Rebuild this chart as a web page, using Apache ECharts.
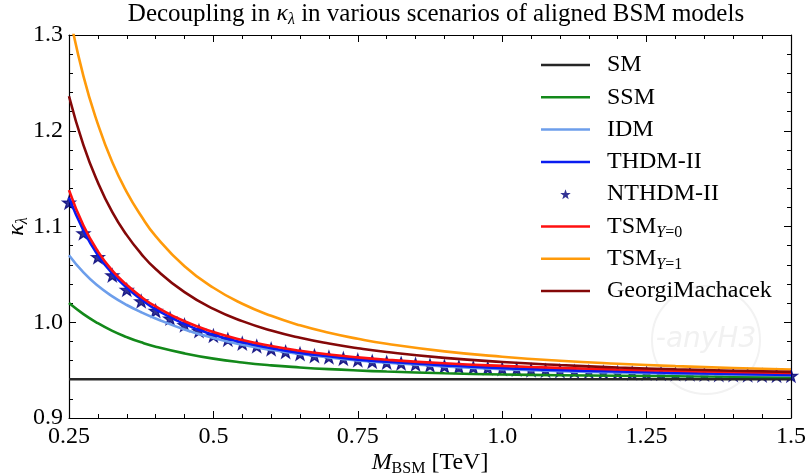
<!DOCTYPE html>
<html>
<head>
<meta charset="utf-8">
<script src="https://cdn.jsdelivr.net/npm/echarts@6/dist/echarts.min.js"></script>
<style>html,body{margin:0;padding:0;background:#fff}#c{width:806px;height:475px}</style>
</head>
<body>
<div id="c"></div>
<script>
// ---- data ----
const xLine = [0.25, 0.275, 0.3, 0.325, 0.35, 0.375, 0.4, 0.45, 0.5, 0.55, 0.6, 0.65, 0.7, 0.75, 0.8, 0.9, 1.0, 1.1, 1.2, 1.3, 1.4, 1.5];
const xSM = [0.25, 1.5];
const smVals = [0.9405, 0.9405];
const ssmVals = [1.020, 1.0085, 0.999, 0.991, 0.9845, 0.979, 0.9745, 0.9675, 0.962, 0.958, 0.955, 0.9528, 0.951, 0.9496, 0.9485, 0.9467, 0.9455, 0.9447, 0.9441, 0.9436, 0.9432, 0.9429];
const idmVals = [1.070, 1.052, 1.038, 1.027, 1.018, 1.0105, 1.004, 0.9925, 0.9835, 0.9765, 0.9712, 0.9668, 0.9631, 0.9601, 0.9577, 0.9538, 0.951, 0.949, 0.9475, 0.9463, 0.9453, 0.9445];
const thdmVals = [1.130, 1.096, 1.070, 1.051, 1.036, 1.024, 1.0135, 0.998, 0.987, 0.979, 0.973, 0.968, 0.9645, 0.961, 0.9588, 0.955, 0.952, 0.950, 0.9485, 0.947, 0.946, 0.945];
const tsm0Vals = [1.138, 1.101, 1.074, 1.054, 1.039, 1.0265, 1.0165, 1.001, 0.9898, 0.9815, 0.9752, 0.9703, 0.9664, 0.9633, 0.9608, 0.9571, 0.9544, 0.9523, 0.9507, 0.9494, 0.948, 0.947];
const tsm1Vals = [1.324, 1.257, 1.207, 1.167, 1.136, 1.111, 1.090, 1.0585, 1.036, 1.0193, 1.0067, 0.9968, 0.989, 0.9827, 0.9775, 0.9696, 0.964, 0.9598, 0.9567, 0.9542, 0.9522, 0.9507];
const gmVals = [1.236, 1.185, 1.146, 1.115, 1.091, 1.0715, 1.0556, 1.0314, 1.014, 1.0012, 0.9914, 0.9838, 0.9778, 0.9729, 0.9689, 0.9628, 0.9585, 0.9553, 0.9528, 0.9509, 0.9494, 0.9482];
const xStar = [0.25, 0.275, 0.3, 0.325, 0.35, 0.375, 0.4, 0.425, 0.45, 0.475, 0.5, 0.525, 0.55, 0.575, 0.6, 0.625, 0.65, 0.675, 0.7, 0.725, 0.75, 0.775, 0.8, 0.825, 0.85, 0.875, 0.9, 0.925, 0.95, 0.975, 1.0, 1.025, 1.05, 1.075, 1.1, 1.125, 1.15, 1.175, 1.2, 1.225, 1.25, 1.275, 1.3, 1.325, 1.35, 1.375, 1.4, 1.425, 1.45, 1.475, 1.5];
const nthdmVals = [1.125, 1.093, 1.068, 1.049, 1.034, 1.022, 1.012, 1.004, 0.997, 0.991, 0.986, 0.982, 0.978, 0.975, 0.972, 0.969, 0.967, 0.965, 0.9635, 0.962, 0.9605, 0.959, 0.958, 0.957, 0.956, 0.955, 0.954, 0.9533, 0.9526, 0.952, 0.9513, 0.9507, 0.9501, 0.9496, 0.9491, 0.9486, 0.9482, 0.9478, 0.9474, 0.947, 0.9467, 0.9464, 0.9461, 0.9458, 0.9455, 0.9452, 0.945, 0.9448, 0.9446, 0.9444, 0.9442];
const xTickVals = [0.25, 0.5, 0.75, 1.0, 1.25, 1.5];
const xTickLabels = ['0.25', '0.5', '0.75', '1.0', '1.25', '1.5'];
const yTickVals = [0.9, 1.0, 1.1, 1.2, 1.3];
const yTickLabels = ['0.9', '1.0', '1.1', '1.2', '1.3'];
const seriesNames = ['SM', 'SSM', 'IDM', 'THDM-II', 'NTHDM-II', 'TSM0', 'TSM1', 'GeorgiMachacek'];

// ---- styling ----
const FONT = 'Liberation Serif';
const colors = {SM:'#262626', SSM:'#13891a', IDM:'#6d9eeb', 'THDM-II':'#0a1cf0', 'NTHDM-II':'#00007a', TSM0:'#ff1010', TSM1:'#ff9a0a', GeorgiMachacek:'#840808'};
const lineIcon = 'path://M0,0 M61,12 M0,4.75 L49,4.75 L49,7.25 L0,7.25 Z';
const starIcon = 'path://M0,0 M61,12 M24.5,1 L25.79,4.72 L29.73,4.8 L26.59,7.18 L27.73,10.95 L24.5,8.7 L21.27,10.95 L22.41,7.18 L19.27,4.8 L23.21,4.72 Z';
const starSymbol = 'path://M12,0 L14.82,8.12 L23.41,8.29 L16.57,13.48 L19.05,21.71 L12,16.8 L4.95,21.71 L7.43,13.48 L0.59,8.29 L9.18,8.12 Z';

function pairs(xs, ys) { return xs.map((x, i) => [x, ys[i]]); }
function lineSeries(name, xs, ys) {
  return {
    name: name, type: 'line', data: pairs(xs, ys), showSymbol: false, symbol: 'none',
    smooth: 0.5, clip: true,
    color: colors[name], lineStyle: {color: colors[name], width: 2.6}, animation: false
  };
}
const legendText = {
  SM: 'SM', SSM: 'SSM', IDM: 'IDM', 'THDM-II': 'THDM-II', 'NTHDM-II': 'NTHDM-II',
  TSM0: 'TSM{s|Y}{b|=0}', TSM1: 'TSM{s|Y}{b|=1}', GeorgiMachacek: 'GeorgiMachacek'
};

const chart = echarts.init(document.getElementById('c'), null, {renderer: 'canvas'});
const axisCommon = {
  type: 'value', splitLine: {show: false},
  axisLine: {show: true, onZero: false, lineStyle: {color: '#000', width: 1.2}},
  axisTick: {show: true, inside: true, length: 7, lineStyle: {color: '#000', width: 1}},
  minorTick: {show: true, splitNumber: 5, length: 4, lineStyle: {color: '#000', width: 1}}
};
const FS = 24;
const subRich = {
  k: {fontFamily: FONT, fontSize: FS, fontStyle: 'italic', color: '#000', lineHeight: 28},
  i: {fontFamily: FONT, fontSize: FS, fontStyle: 'italic', color: '#000', lineHeight: 28},
  n: {fontFamily: FONT, fontSize: FS, color: '#000', lineHeight: 28},
  s: {fontFamily: FONT, fontSize: 16, fontStyle: 'italic', color: '#000', lineHeight: 13, verticalAlign: 'bottom'},
  b: {fontFamily: FONT, fontSize: 16, color: '#000', lineHeight: 13, verticalAlign: 'bottom'}
};

chart.setOption({
  animation: false,
  backgroundColor: '#fff',
  title: {
    text: 'Decoupling in {k|κ}{s|λ} in various scenarios of aligned BSM models',
    left: 436, top: 0, textAlign: 'center', padding: 0,
    textStyle: {fontFamily: FONT, fontSize: 25, fontWeight: 'normal', color: '#000', lineHeight: 28, rich: subRich}
  },
  grid: {left: 69, right: 15, top: 35, bottom: 57, containLabel: false, outerBoundsMode: 'none'},
  graphic: [
    {type: 'circle', shape: {cx: 706, cy: 340, r: 54}, style: {fill: 'none', stroke: '#f2f2f2', lineWidth: 2}, z: 0},
    {type: 'text', x: 706, y: 340, style: {text: '-anyH3', font: 'italic 28px "DejaVu Sans"', fill: '#f1f1f1', align: 'center', verticalAlign: 'middle'}, z: 0}
  ],
  legend: {
    orient: 'vertical', left: 541, top: 51, padding: 0, itemGap: 4.3,
    itemWidth: 61, itemHeight: 12, symbolKeepAspect: true,
    itemStyle: {borderWidth: 0},
    data: seriesNames.map(n => ({name: n, icon: n === 'NTHDM-II' ? starIcon : lineIcon})),
    formatter: n => legendText[n],
    textStyle: {fontFamily: FONT, fontSize: FS, color: '#000', lineHeight: 28, padding: 0,
      rich: {
        s: {fontFamily: FONT, fontSize: 16, fontStyle: 'italic', color: '#000', lineHeight: 13, verticalAlign: 'bottom'},
        b: {fontFamily: FONT, fontSize: 16, color: '#000', lineHeight: 13, verticalAlign: 'bottom'}
      }}
  },
  xAxis: [
    Object.assign({}, axisCommon, {
      position: 'bottom', min: 0.25, max: 1.5, interval: 0.25,
      axisLabel: {show: true, margin: 7, fontFamily: FONT, fontSize: FS, color: '#000',
        formatter: v => { const i = xTickVals.findIndex(t => Math.abs(t - v) < 1e-6); return i >= 0 ? xTickLabels[i] : ''; }},
      name: '{i|M}{b|BSM}{n| [TeV]}', nameLocation: 'middle', nameGap: 31, nameMoveOverlap: false,
      nameTextStyle: {fontFamily: FONT, fontSize: FS, color: '#000', lineHeight: 28, rich: subRich}
    }),
    Object.assign({}, axisCommon, {position: 'top', min: 0.25, max: 1.5, interval: 0.25, axisLabel: {show: false}})
  ],
  yAxis: [
    Object.assign({}, axisCommon, {
      position: 'left', min: 0.9, max: 1.3, interval: 0.1,
      axisLabel: {show: true, margin: 6, fontFamily: FONT, fontSize: FS, color: '#000',
        formatter: v => { const i = yTickVals.findIndex(t => Math.abs(t - v) < 1e-6); return i >= 0 ? yTickLabels[i] : ''; }},
      name: '{k|κ}{s|λ}', nameLocation: 'middle', nameGap: 38, nameMoveOverlap: false,
      nameTextStyle: {fontFamily: FONT, fontSize: FS, color: '#000', lineHeight: 28, rich: subRich}
    }),
    Object.assign({}, axisCommon, {position: 'right', min: 0.9, max: 1.3, interval: 0.1, axisLabel: {show: false}})
  ],
  series: [
    lineSeries('SM', xSM, smVals),
    lineSeries('SSM', xLine, ssmVals),
    lineSeries('IDM', xLine, idmVals),
    lineSeries('THDM-II', xLine, thdmVals),
    {name: 'NTHDM-II', type: 'scatter', data: pairs(xStar, nthdmVals), symbol: starSymbol, symbolSize: 13,
      symbolKeepAspect: true, color: colors['NTHDM-II'],
      itemStyle: {color: colors['NTHDM-II'], borderColor: colors['NTHDM-II'], borderWidth: 1.2}, animation: false},
    lineSeries('TSM0', xLine, tsm0Vals),
    lineSeries('TSM1', xLine, tsm1Vals),
    lineSeries('GeorgiMachacek', xLine, gmVals)
  ]
});
</script>
</body>
</html>
